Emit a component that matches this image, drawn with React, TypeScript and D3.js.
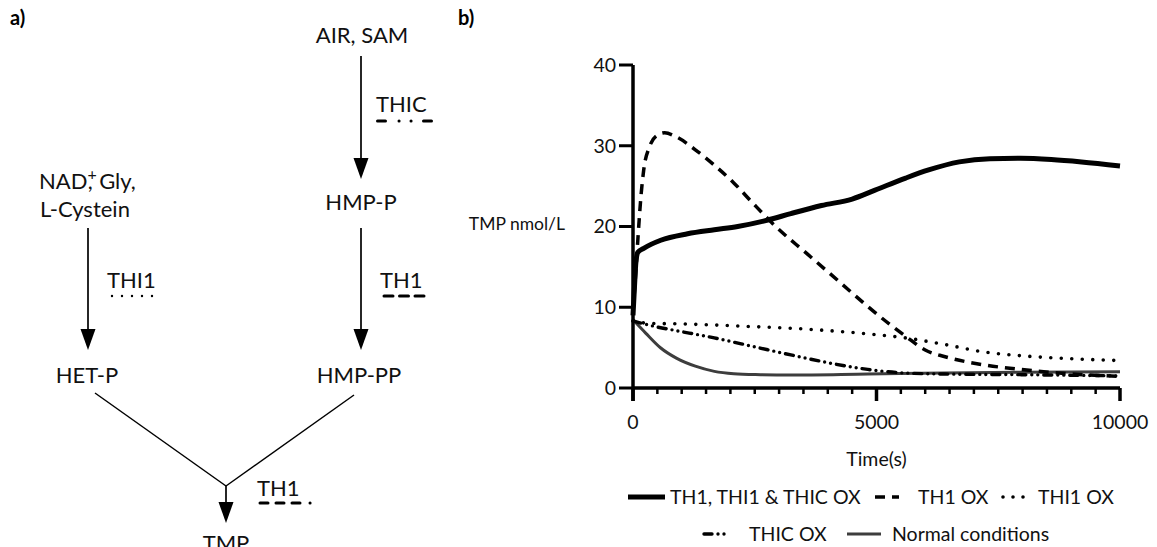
import React from 'react';
import * as d3 from 'd3';

// time (s) / TMP (nmol/L)
const allOx: [number, number][] = [
  [0, 9.0], [30, 12.5], [60, 15.6], [100, 16.8], [220, 17.3], [570, 18.3], [1120, 19.1],
  [1670, 19.6], [2150, 20.0], [2770, 20.8], [3240, 21.6], [3870, 22.6], [4500, 23.4],
  [4970, 24.5], [5600, 26.0], [6070, 27.0], [6700, 28.0], [7330, 28.4], [7960, 28.45],
  [8590, 28.3], [9210, 28.0], [10000, 27.5],
];
const th1Ox: [number, number][] = [
  [0, 9.3], [30, 12.0], [60, 14.6], [100, 18.4], [160, 23.5], [220, 27.0], [340, 29.9],
  [500, 31.3], [650, 31.6], [890, 31.1], [1280, 29.5], [1670, 27.6], [2070, 25.4],
  [2460, 22.9], [2930, 20.0], [3560, 16.7], [4190, 13.4], [4820, 10.1], [5290, 7.8],
  [5600, 6.4], [6000, 4.7], [6390, 3.9], [7170, 2.9], [7960, 2.3], [8740, 1.85], [10000, 1.45],
];
const thi1Ox: [number, number][] = [
  [0, 8.3], [340, 8.0], [890, 7.95], [1670, 7.8], [2460, 7.6], [3240, 7.4], [4030, 7.1],
  [4820, 6.7], [5600, 6.2], [6390, 5.4], [7170, 4.5], [7960, 4.0], [8740, 3.7], [10000, 3.4],
];
const thicOx: [number, number][] = [
  [0, 8.3], [500, 7.55], [890, 7.1], [1670, 6.2], [2460, 5.15], [3240, 4.1], [4030, 3.1],
  [4820, 2.3], [5600, 1.85], [6390, 1.73], [7960, 1.65], [10000, 1.5],
];
const normal: [number, number][] = [
  [0, 8.45], [260, 6.8], [570, 4.95], [890, 3.7], [1280, 2.7], [1670, 2.06], [2070, 1.77],
  [2620, 1.65], [3240, 1.6], [4820, 1.73], [6390, 1.85], [7960, 1.95], [10000, 2.0],
];

const yTicks = [0, 10, 20, 30, 40];
const xMajor = [0, 5000, 10000];
const xMinor = d3.range(0, 10001, 500);

const FONT = 'Lato, "Open Sans", sans-serif';
const CHART_FS = 19.5;
const DIAG_FS = 22;

const styles = {
  all: { stroke: '#000', width: 5, dash: undefined as string | undefined, cap: 'butt' },
  th1: { stroke: '#000', width: 3.5, dash: '10,7', cap: 'butt' },
  thi1: { stroke: '#000', width: 3.6, dash: '0,10.5', cap: 'round' },
  thic: { stroke: '#000', width: 3.4, dash: '8,6,0,6,0,6', cap: 'round' },
  normal: { stroke: '#3d3d3d', width: 3, dash: undefined as string | undefined, cap: 'butt' },
};

const series = [
  { key: 'normal', data: normal, s: styles.normal },
  { key: 'thic', data: thicOx, s: styles.thic },
  { key: 'thi1', data: thi1Ox, s: styles.thi1 },
  { key: 'th1', data: th1Ox, s: styles.th1 },
  { key: 'all', data: allOx, s: styles.all },
];

const Arrow = ({ x, y1, y2 }: { x: number; y1: number; y2: number }) => (
  <g>
    <line x1={x} y1={y1} x2={x} y2={y2 - 18} stroke="#000" strokeWidth={1.7} />
    <path d={`M${x - 7.5},${y2 - 21} L${x + 7.5},${y2 - 21} L${x},${y2} Z`} fill="#000" />
  </g>
);

const Diagram = () => {
  const t = { fontFamily: FONT, fontSize: DIAG_FS, fill: '#111' } as const;
  return (
    <g>
      <text x={10} y={25} fontFamily={FONT} fontWeight="bold" fontSize={20}>a)</text>
      <text x={362} y={43} textAnchor="middle" {...t}>AIR, SAM</text>
      <Arrow x={361} y1={56} y2={179} />
      <text x={376} y={112} {...t}>THIC</text>
      <line x1={377.5} x2={432} y1={121} y2={121} stroke="#000" strokeWidth={3}
        strokeDasharray="8,13.5,0.1,11.9,0.1,12.4,8" strokeLinecap="round" />
      <text x={361} y={210} textAnchor="middle" {...t}>HMP-P</text>
      <text x={39} y={189} {...t}>
        NAD<tspan dy={-9} fontSize={16}>+</tspan><tspan dy={9} dx={-9}>,</tspan><tspan dx={7}>Gly,</tspan>
      </text>
      <text x={40} y={217} {...t}>L-Cystein</text>
      <Arrow x={88} y1={228} y2={350} />
      <Arrow x={361} y1={228} y2={350} />
      <text x={107} y={288} {...t}>THI1</text>
      <line x1={112} x2={162} y1={296} y2={296} stroke="#000" strokeWidth={2.4}
        strokeDasharray="0,10" strokeLinecap="round" />
      <text x={380} y={288} {...t}>TH1</text>
      <line x1={384} x2={429} y1={296} y2={296} stroke="#000" strokeWidth={3}
        strokeDasharray="9,6.5" strokeLinecap="round" />
      <text x={87} y={383} textAnchor="middle" {...t}>HET-P</text>
      <text x={359} y={383} textAnchor="middle" {...t}>HMP-PP</text>
      <line x1={95} y1={393} x2={226} y2={486} stroke="#000" strokeWidth={1.5} />
      <line x1={354} y1={395} x2={226} y2={486} stroke="#000" strokeWidth={1.5} />
      <Arrow x={226} y1={486} y2={523} />
      <text x={257} y={496} {...t}>TH1</text>
      <line x1={260} x2={318} y1={503} y2={503} stroke="#000" strokeWidth={3}
        strokeDasharray="8,8,8,8,8,10,0.1,20" strokeLinecap="round" />
      <text x={226} y={551} textAnchor="middle" {...t}>TMP</text>
    </g>
  );
};

const LegendItem = ({ x, y, w, s, label, tx }: any) => (
  <g>
    <line x1={x} x2={x + w} y1={y} y2={y} stroke={s.stroke} strokeWidth={s.width}
      strokeDasharray={s.dash} strokeLinecap={s.cap} />
    <text x={tx} y={y} dy="0.35em" fontFamily={FONT} fontSize={CHART_FS} fill="#111">{label}</text>
  </g>
);

const App = () => {
  const x = d3.scaleLinear().domain([0, 10000]).range([633, 1120]);
  const y = d3.scaleLinear().domain([0, 40]).range([388, 65]);
  const line = d3.line<[number, number]>()
    .x(d => x(d[0]))
    .y(d => y(d[1]))
    .curve(d3.curveMonotoneX);

  return (
    <svg width={1157} height={547} style={{ position: 'absolute', left: 0, top: 0, background: '#fff' }}>
      <rect width={1157} height={547} fill="#fff" />
      <Diagram />

      <text x={458} y={25} fontFamily={FONT} fontWeight="bold" fontSize={20}>b)</text>

      {/* series */}
      {series.map(({ key, data, s }) => (
        <path key={key} d={line(data) ?? ''} fill="none" stroke={s.stroke} strokeWidth={s.width}
          strokeDasharray={s.dash} strokeLinecap={s.cap as any} strokeLinejoin="round" />
      ))}

      {/* y axis */}
      <line x1={x(0)} x2={x(0)} y1={y(40)} y2={y(0) + 13} stroke="#000" strokeWidth={3.5} />
      {yTicks.map(v => (
        <g key={v}>
          <line x1={x(0) - 14} x2={x(0)} y1={y(v)} y2={y(v)} stroke="#000" strokeWidth={3} />
          <text x={x(0) - 17} y={y(v)} dy="0.35em" textAnchor="end" fontFamily={FONT} fontSize={CHART_FS} fill="#111">{v}</text>
        </g>
      ))}
      <text x={565} y={224} dy="0.35em" textAnchor="end" fontFamily={FONT} fontSize={17.5} fill="#111">TMP nmol/L</text>

      {/* x axis */}
      <line x1={x(0)} x2={x(10000)} y1={y(0)} y2={y(0)} stroke="#000" strokeWidth={3.5} />
      {xMinor.map(v => (
        <line key={v} x1={x(v)} x2={x(v)} y1={y(0)} y2={y(0) + (xMajor.includes(v) ? 13 : 6)}
          stroke="#000" strokeWidth={xMajor.includes(v) ? 3.5 : 2.5} />
      ))}
      {xMajor.map(v => (
        <text key={v} x={x(v)} y={422} dy="0.35em" textAnchor="middle" fontFamily={FONT} fontSize={CHART_FS} fill="#111">{v}</text>
      ))}
      <text x={x(5000)} y={459} dy="0.35em" textAnchor="middle" fontFamily={FONT} fontSize={CHART_FS} fill="#111">Time(s)</text>

      {/* legend */}
      <LegendItem x={628} y={497} w={37} s={styles.all} label="TH1, THI1 & THIC OX" tx={670} />
      <LegendItem x={875} y={497} w={24} s={styles.th1} label="TH1 OX" tx={918} />
      <LegendItem x={1003} y={497} w={22} s={{ ...styles.thi1, dash: '0,10' }} label="THI1 OX" tx={1038} />
      <LegendItem x={704} y={534} w={24} s={{ ...styles.thic, dash: '8,6,0,6,0,6' }} label="THIC OX" tx={749} />
      <LegendItem x={847} y={534} w={34} s={styles.normal} label="Normal conditions" tx={892} />
    </svg>
  );
};

export default App;
